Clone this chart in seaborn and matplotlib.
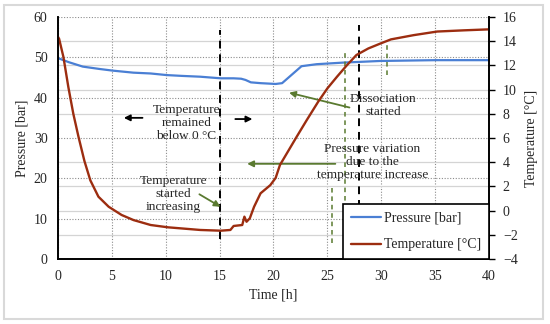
import matplotlib
matplotlib.use("Agg")
import matplotlib.pyplot as plt
import seaborn as sns
from matplotlib.patches import Rectangle
from matplotlib.ticker import MultipleLocator

# dados
time_p = [0, 1, 2.3, 3.9, 5.1, 7, 8.6, 10.1, 11.5, 13.2, 15.1, 16.3, 17.0, 17.4,
          17.9, 18.8, 20.2, 20.8, 22.6, 24, 26.5, 29.9, 35, 40]
pressure = [49.8, 48.8, 47.7, 47.1, 46.7, 46.2, 46.0, 45.6, 45.4, 45.2, 44.8, 44.8,
            44.7, 44.4, 43.8, 43.6, 43.4, 43.6, 47.8, 48.3, 48.7, 49.1, 49.3, 49.3]

time_t = [0, 0.1, 0.5, 0.96, 1.42, 1.9, 2.45, 3.0, 3.75, 4.7, 5.9, 7, 8.6, 10.2, 13.2,
          15.1, 16.0, 16.3, 17.1, 17.3, 17.5, 17.8, 18.2, 18.8, 19.7, 20.2, 20.6,
          22.15, 23.1, 24.15, 25.0, 25.9, 26.8, 27.7, 28.8, 29.9, 30.9, 33, 35.2,
          37.7, 40]
temperature = [14.35, 14.2, 12.7, 10.2, 8.0, 6.1, 4.1, 2.5, 1.15, 0.32, -0.36, -0.78,
               -1.19, -1.38, -1.6, -1.66, -1.6, -1.27, -1.19, -0.5, -0.92, -0.64, 0.32,
               1.43, 2.1, 2.7, 3.77, 6.1, 7.5, 9.0, 10.1, 11.07, 12.0, 12.86, 13.4,
               13.8, 14.15, 14.5, 14.8, 14.9, 14.98]

blue = "#4a7fd4"
red = "#9c2d10"
green = "#5a7a30"

sns.set_style("white")
plt.rcParams['font.family'] = ['Liberation Serif', 'DejaVu Serif']
plt.rcParams['font.size'] = 10

fig, ax = plt.subplots(figsize=(5.5, 3.24), dpi=100)
fig.subplots_adjust(left=0.1055, right=0.889, bottom=0.2006, top=0.9475)
ax2 = ax.twinx()

sns.lineplot(x=time_p, y=pressure, ax=ax, color=blue, linewidth=1.6,
             label="Pressure [bar]", legend=False)
sns.lineplot(x=time_t, y=temperature, ax=ax2, color=red, linewidth=1.7,
             label="Temperature [°C]", legend=False)

ax.set_xlim(0, 40)
ax.set_ylim(0, 60)
ax2.set_ylim(-4, 16)
ax.xaxis.set_major_locator(MultipleLocator(5))
ax.yaxis.set_major_locator(MultipleLocator(10))
ax.yaxis.set_minor_locator(MultipleLocator(6))
ax2.yaxis.set_major_locator(MultipleLocator(2))

# grade: pontilhada para pressao/tempo, solida clara para temperatura
ax.grid(which='major', axis='both', linestyle=(0, (1, 1.5)), color='#8c8c8c', linewidth=0.8)
ax.grid(which='minor', axis='y', linestyle='-', color='#d4d4d4', linewidth=0.9)
ax.set_axisbelow(True)

ax.tick_params(axis='both', which='both', length=0, labelsize=10)
ax.tick_params(axis='y', pad=7.5)
ax.tick_params(axis='x', pad=8)
ax2.tick_params(axis='y', length=4, width=1, direction='out', pad=6, labelsize=10, color='black')

for a in (ax, ax2):
    a.spines['top'].set_visible(False)
    for s in ('left', 'bottom', 'right'):
        a.spines[s].set_color('black')
        a.spines[s].set_linewidth(1.2)

ax.set_xlabel("Time [h]", labelpad=4)
ax.set_ylabel("Pressure [bar]", labelpad=4)
ax2.set_ylabel("Temperature [°C]", labelpad=5)

# linhas tracejadas verticais
ax.vlines(15, 5, 56.8, colors='black', linestyles=(0, (4, 3)), linewidth=1.4, zorder=3)
ax.vlines(27.9, 6, 58, colors='black', linestyles=(0, (4, 3)), linewidth=1.4, zorder=3)
ax.vlines(25.4, 4, 17.5, colors=green, linestyles=(0, (3, 2.5)), linewidth=1.1, zorder=3)
ax.vlines(26.6, 2, 51.8, colors=green, linestyles=(0, (3, 2.5)), linewidth=1.1, zorder=3)
ax.vlines(30.5, 45.5, 53.8, colors=green, linestyles=(0, (3, 2.5)), linewidth=1.1, zorder=3)

fs = 9.6
ax.text(11.9, 33.8, "Temperature\nremained\nbelow 0 °C", ha='center', va='center',
        fontsize=fs, linespacing=1.1)
ax.annotate("", xy=(5.85, 35.0), xytext=(8.1, 35.0),
            arrowprops=dict(arrowstyle='-|>', color='black', lw=1.3, mutation_scale=9))
ax.annotate("", xy=(18.3, 34.7), xytext=(16.2, 34.7),
            arrowprops=dict(arrowstyle='-|>', color='black', lw=1.3, mutation_scale=9))

ax.text(30.2, 38.0, "Dissociation\nstarted", ha='center', va='center',
        fontsize=fs, linespacing=1.1)
ax.annotate("", xy=(21.2, 41.4), xytext=(27.3, 37.4),
            arrowprops=dict(arrowstyle='-|>', color=green, lw=1.3, mutation_scale=9))

ax.text(29.2, 24.0, "Pressure variation\ndue to the\ntemperature increase", ha='center',
        va='center', fontsize=fs, linespacing=1.1)
ax.annotate("", xy=(17.3, 23.6), xytext=(26.0, 23.6),
            arrowprops=dict(arrowstyle='-|>', color=green, lw=1.3, mutation_scale=9))

ax.text(10.7, 16.1, "Temperature\nstarted\nincreasing", ha='center', va='center',
        fontsize=fs, linespacing=1.1)
ax.annotate("", xy=(15.3, 12.6), xytext=(12.9, 16.4),
            arrowprops=dict(arrowstyle='-|>', color=green, lw=1.3, mutation_scale=9))

h1, l1 = ax.get_legend_handles_labels()
h2, l2 = ax2.get_legend_handles_labels()
leg = ax2.legend(h1 + h2, l1 + l2, loc='lower right', borderaxespad=0, fancybox=False,
                 framealpha=1, edgecolor='black', fontsize=10, handlelength=2.2,
                 handletextpad=0.2, labelspacing=1.0, borderpad=0.55)
leg.get_frame().set_linewidth(1.2)

fig.patches.append(Rectangle((0.008, 0.015), 0.98, 0.97, transform=fig.transFigure,
                             fill=False, edgecolor='#d9d9d9', linewidth=1.5))

plt.savefig("out.png", dpi=100)
